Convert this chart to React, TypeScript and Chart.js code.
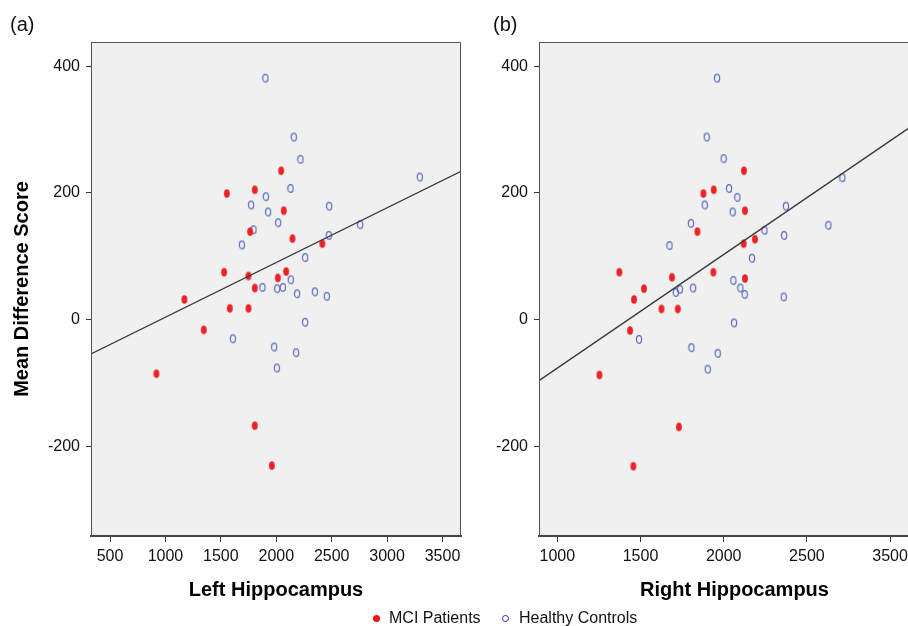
import React, { useEffect, useRef } from "react";
import { Chart, registerables } from "chart.js";

Chart.register(...registerables);

const FONT = "'Liberation Sans', Arial, Helvetica, sans-serif";

// ---- Panel (a): Left Hippocampus ----
const leftMciX = [2044, 1554, 1806, 2068, 1764, 2146, 2416, 1529, 1749, 2014, 2089, 1806, 1171, 1581, 1749, 1346, 918, 1806, 1960];
const leftMciY = [235, 199, 205, 172, 139, 128, 120, 75, 69, 66, 76, 50, 32, 18, 18, -16, -85, -167, -230];
const leftHcX = [1902, 2158, 2218, 2128, 1906, 1773, 1926, 2477, 2017, 3295, 2757, 2474, 1794, 1689, 2260, 1875, 2008, 2059, 2131, 2188, 2348, 2456, 2260, 1608, 1981, 2179, 2005];
const leftHcY = [381, 288, 253, 207, 194, 181, 170, 179, 153, 225, 150, 133, 142, 118, 98, 51, 49, 51, 63, 41, 44, 37, -4, -30, -43, -52, -76];
const leftFit = [-82.3, 0.08625]; // intercept, slope
const leftXRange = [328, 3667];
const leftXTicks = [500, 1000, 1500, 2000, 2500, 3000, 3500];
const leftXTickLabels = ["500", "1000", "1500", "2000", "2500", "3000", "3500"];

// ---- Panel (b): Right Hippocampus ----
const rightMciX = [2122, 1878, 1940, 2128, 1842, 2188, 2120, 1373, 1689, 1938, 2128, 1521, 1461, 1626, 1724, 1437, 1253, 1731, 1457];
const rightMciY = [235, 199, 205, 172, 139, 127, 120, 75, 67, 75, 65, 49, 32, 17, 17, -17, -87, -169, -231];
const rightHcX = [1960, 1898, 2000, 2032, 2082, 1886, 2054, 2374, 1803, 2713, 2629, 2245, 2363, 1674, 2170, 2058, 1712, 1737, 1816, 2100, 2126, 2361, 2062, 1491, 1806, 1964, 1904];
const rightHcY = [381, 288, 254, 207, 193, 181, 170, 179, 152, 224, 149, 141, 133, 117, 97, 62, 43, 48, 50, 50, 40, 36, -5, -31, -44, -53, -78];
const rightFit = [-255.4, 0.17915];
const rightXRange = [890, 3240];
const rightXTicks = [1000, 1500, 2000, 2500, 3000];
const rightXTickLabels = ["1000", "1500", "2000", "2500", "3500"];

// ---- shared y axis ----
const yRange = [-341, 438];
const yTicks = [-200, 0, 200, 400];

function makeMarker(kind: "filled" | "hollow") {
  const c = document.createElement("canvas");
  c.width = 8;
  c.height = 11;
  const g = c.getContext("2d")!;
  g.beginPath();
  if (kind === "filled") {
    g.ellipse(4, 5.5, 2.9, 4.3, 0, 0, Math.PI * 2);
    g.fillStyle = "#ec2027";
    g.fill();
  } else {
    g.ellipse(4, 5.5, 2.6, 3.9, 0, 0, Math.PI * 2);
    g.strokeStyle = "#5a6bbd";
    g.lineWidth = 1.2;
    g.stroke();
  }
  return c;
}

const framePlugin = {
  id: "frame",
  beforeDraw(chart: any) {
    const { ctx, chartArea: a } = chart;
    ctx.save();
    ctx.fillStyle = "#f0f0f0";
    ctx.fillRect(a.left, a.top, a.right - a.left, a.bottom - a.top);
    ctx.restore();
  },
  afterDraw(chart: any) {
    const { ctx, chartArea: a } = chart;
    ctx.save();
    ctx.strokeStyle = "#555";
    ctx.lineWidth = 1;
    ctx.beginPath();
    ctx.moveTo(a.left + 0.5, a.bottom);
    ctx.lineTo(a.left + 0.5, a.top + 0.5);
    ctx.lineTo(a.right - 0.5, a.top + 0.5);
    ctx.lineTo(a.right - 0.5, a.bottom);
    ctx.stroke();
    ctx.restore();
  },
};

type PanelProps = {
  mciX: number[];
  mciY: number[];
  hcX: number[];
  hcY: number[];
  fit: number[];
  xRange: number[];
  xTicks: number[];
  xTickLabels: string[];
  xTitle: string;
  yTitle?: string;
  yAxisWidth: number;
  padRight: number;
  width: number;
  left: number;
};

function Panel(p: PanelProps) {
  const ref = useRef<HTMLCanvasElement | null>(null);
  useEffect(() => {
    if (!ref.current) return;
    const red = makeMarker("filled");
    const blue = makeMarker("hollow");
    const mci = p.mciX.map((x, i) => ({ x, y: p.mciY[i] }));
    const hc = p.hcX.map((x, i) => ({ x, y: p.hcY[i] }));
    const fitLine = p.xRange.map((x) => ({ x, y: p.fit[0] + p.fit[1] * x }));
    const chart = new Chart(ref.current, {
      type: "scatter",
      data: {
        datasets: [
          {
            label: "Fit",
            data: fitLine,
            showLine: true,
            borderColor: "#3a3a3a",
            borderWidth: 1.3,
            pointRadius: 0,
            order: 0,
          } as any,
          {
            label: "MCI Patients",
            data: mci,
            pointStyle: red as any,
            pointRadius: 4,
            order: 1,
          },
          {
            label: "Healthy Controls",
            data: hc,
            pointStyle: blue as any,
            pointRadius: 4,
            order: 2,
          },
        ],
      },
      options: {
        animation: false,
        responsive: false,
        devicePixelRatio: 1,
        layout: { padding: { top: 42, right: p.padRight, bottom: 0, left: 0 } },
        plugins: { legend: { display: false }, tooltip: { enabled: false } },
        scales: {
          x: {
            type: "linear",
            min: p.xRange[0],
            max: p.xRange[1],
            afterBuildTicks: (s: any) => {
              s.ticks = p.xTicks.map((v) => ({ value: v }));
            },
            afterFit: (s: any) => {
              s.height = 90;
            },
            ticks: {
              autoSkip: false,
              maxRotation: 0,
              padding: 5,
              color: "#111",
              font: { family: FONT, size: 16 },
              callback: (_v: any, i: number) => p.xTickLabels[i],
            },
            grid: { drawOnChartArea: false, drawTicks: true, tickLength: 6, color: "#333" },
            border: { display: true, color: "#444", width: 2 },
            title: {
              display: true,
              text: p.xTitle,
              color: "#000",
              font: { family: FONT, size: 20, weight: "bold" },
              padding: { top: 0, bottom: 24 },
            },
          },
          y: {
            type: "linear",
            min: yRange[0],
            max: yRange[1],
            afterBuildTicks: (s: any) => {
              s.ticks = yTicks.map((v) => ({ value: v }));
            },
            afterFit: (s: any) => {
              s.width = p.yAxisWidth;
            },
            ticks: {
              autoSkip: false,
              padding: 6,
              color: "#111",
              font: { family: FONT, size: 16 },
            },
            grid: { drawOnChartArea: false, drawTicks: true, tickLength: 5, color: "#333" },
            border: { display: true, color: "#555", width: 1 },
            title: {
              display: !!p.yTitle,
              text: p.yTitle || "",
              color: "#000",
              font: { family: FONT, size: 20, weight: "bold" },
              padding: { top: 10, bottom: 0 },
            },
          },
        },
      },
      plugins: [framePlugin],
    });
    return () => chart.destroy();
  }, []);
  return (
    <canvas
      ref={ref}
      width={p.width}
      height={626}
      style={{ position: "absolute", left: p.left, top: 0, width: p.width, height: 626 }}
    />
  );
}

const labelStyle: React.CSSProperties = {
  position: "absolute",
  fontFamily: FONT,
  fontSize: 20,
  lineHeight: "20px",
  color: "#111",
  whiteSpace: "nowrap",
};

export default function App() {
  return (
    <div
      style={{
        position: "fixed",
        left: 0,
        top: 0,
        width: 908,
        height: 626,
        overflow: "hidden",
        background: "#fff",
      }}
    >
      <Panel
        mciX={leftMciX}
        mciY={leftMciY}
        hcX={leftHcX}
        hcY={leftHcY}
        fit={leftFit}
        xRange={leftXRange}
        xTicks={leftXTicks}
        xTickLabels={leftXTickLabels}
        xTitle="Left Hippocampus"
        yTitle="Mean Difference Score"
        yAxisWidth={91}
        padRight={9}
        width={470}
        left={0}
      />
      <Panel
        mciX={rightMciX}
        mciY={rightMciY}
        hcX={rightHcX}
        hcY={rightHcY}
        fit={rightFit}
        xRange={rightXRange}
        xTicks={rightXTicks}
        xTickLabels={rightXTickLabels}
        xTitle="Right Hippocampus"
        yAxisWidth={69}
        padRight={10}
        width={470}
        left={470}
      />
      <div style={{ ...labelStyle, left: 10, top: 14 }}>(a)</div>
      <div style={{ ...labelStyle, left: 493, top: 14 }}>(b)</div>
      <div
        style={{
          position: "absolute",
          left: 373,
          top: 615,
          width: 7,
          height: 7,
          borderRadius: "50%",
          background: "#ee1111",
        }}
      />
      <div style={{ ...labelStyle, fontSize: 16, lineHeight: "16px", left: 389, top: 610 }}>MCI Patients</div>
      <div
        style={{
          position: "absolute",
          left: 502,
          top: 615,
          width: 5,
          height: 5,
          borderRadius: "50%",
          border: "1.2px solid #2a2ad0",
        }}
      />
      <div style={{ ...labelStyle, fontSize: 16, lineHeight: "16px", left: 519, top: 610 }}>Healthy Controls</div>
    </div>
  );
}
